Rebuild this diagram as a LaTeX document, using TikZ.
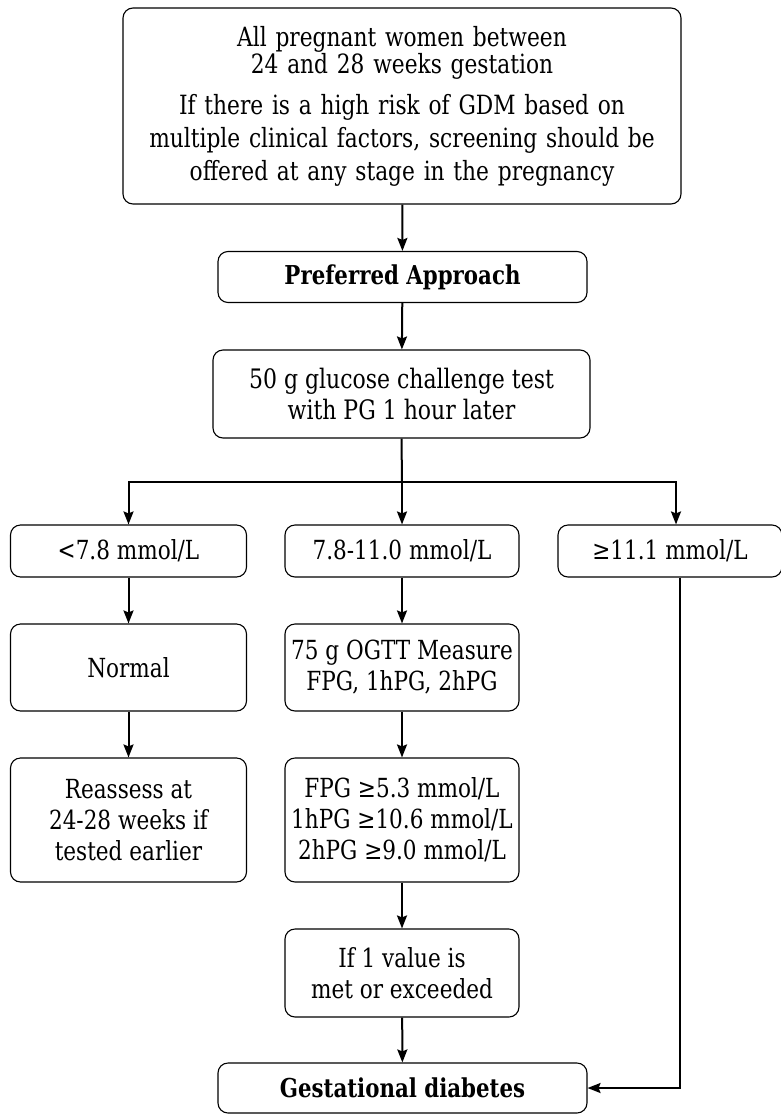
\documentclass[tikz,border=0pt]{standalone}
\usepackage{fontspec}
\setmainfont{DejaVu Serif}
\newfontfamily\condfont[FakeStretch=0.82]{DejaVu Serif}
\usetikzlibrary{arrows.meta}
\begin{document}
\begin{tikzpicture}[x=1pt,y=-1pt,
  box/.style={draw, line width=1.1pt, rounded corners=10pt, align=center, inner sep=0pt,
    font=\condfont\fontsize{26.3}{31}\selectfont},
  bold/.style={font=\condfont\bfseries\fontsize{26}{30}\selectfont},
  arr/.style={line width=2pt, -{Stealth[length=13pt,width=10pt,inset=2pt]}},
  ln/.style={line width=2pt}]
\useasboundingbox (0,0) rectangle (780,1114);
\node[box, minimum width=558pt, minimum height=196pt, text width=550pt] (top) at (402,106)
  {{\fontsize{26.5}{26}\selectfont All pregnant women between\\24 and 28 weeks gestation\par}\vspace{8pt}
   {\fontsize{26.5}{33}\selectfont If there is a high risk of GDM based on\\multiple clinical factors, screening should be\\offered at any stage in the pregnancy\par}};
\node[box, bold, minimum width=369pt, minimum height=51pt] (pref) at (402.5,277) {Preferred Approach};
\node[box, minimum width=377pt, minimum height=88pt, font=\condfont\fontsize{26.8}{31}\selectfont] (gct) at (401.5,394) {50 g glucose challenge test\\with PG 1 hour later};
\node[box, minimum width=236pt, minimum height=52pt] (lo) at (128.5,551) {<7.8 mmol/L};
\node[box, minimum width=234pt, minimum height=52pt] (mid) at (402,551) {7.8-11.0 mmol/L};
\node[box, minimum width=224pt, minimum height=52pt] (hi) at (670,551) {≥11.1 mmol/L};
\node[box, minimum width=236pt, minimum height=87pt] (norm) at (128.5,667.5) {Normal};
\node[box, minimum width=234pt, minimum height=87pt] (ogtt) at (402,667.5) {75 g OGTT Measure\\FPG, 1hPG, 2hPG};
\node[box, minimum width=236pt, minimum height=124pt] (reas) at (128.5,820) {Reassess at\\24-28 weeks if\\tested earlier};
\node[box, minimum width=234pt, minimum height=124pt] (fpg) at (402,820) {FPG ≥5.3 mmol/L\\1hPG ≥10.6 mmol/L\\2hPG ≥9.0 mmol/L};
\node[box, minimum width=234pt, minimum height=88pt] (one) at (402,973) {If 1 value is\\met or exceeded};
\node[box, bold, minimum width=369pt, minimum height=50pt] (gdm) at (402.5,1088) {Gestational diabetes};
\draw[arr] (top) -- (pref);
\draw[arr] (pref) -- (gct);
\draw[ln] (gct.south) -- (402,482) coordinate (br);
\draw[arr] (br) -| (lo.north);
\draw[arr] (br) -- (mid.north);
\draw[arr] (br) -| ([xshift=6pt]hi.north);
\draw[arr] (lo) -- (norm);
\draw[arr] (norm) -- (reas);
\draw[arr] (mid) -- (ogtt);
\draw[arr] (ogtt) -- (fpg);
\draw[arr] (fpg) -- (one);
\draw[arr] (one) -- (gdm);
\draw[arr] ([xshift=10pt]hi.south) |- (gdm.east);
\end{tikzpicture}
\end{document}
